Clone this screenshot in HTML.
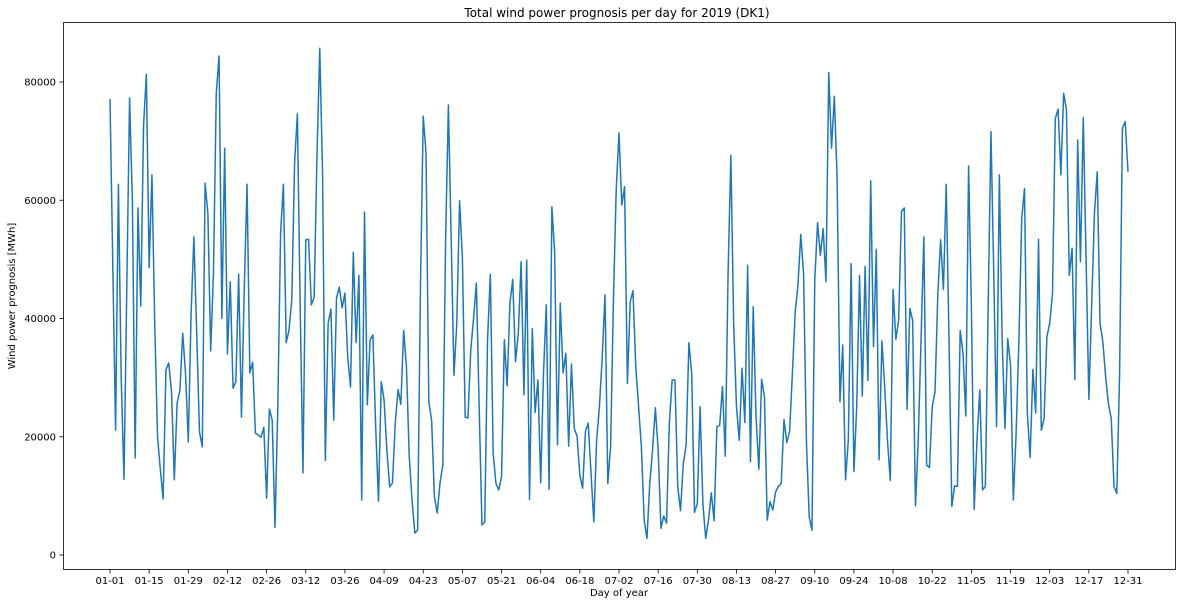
<!DOCTYPE html>
<html><head><meta charset="utf-8">
<style>
html,body{margin:0;padding:0;background:#fff;}
svg{display:block;font-family:"DejaVu Sans","Liberation Sans",sans-serif;}
</style></head>
<body>
<svg id="chart" width="1182" height="604" viewBox="0 0 1182 604" xmlns="http://www.w3.org/2000/svg">
<rect x="0" y="0" width="1182" height="604" fill="#fff"/>
<text x="617" y="17" font-size="12" text-anchor="middle" fill="#000">Total wind power prognosis per day for 2019 (DK1)</text>
<rect x="63.5" y="22.5" width="1112" height="547" fill="none" stroke="#000" stroke-width="0.8"/>
<g id="yaxis"></g>
<g id="xaxis"></g>
<text x="619" y="596" font-size="10" text-anchor="middle" fill="#000">Day of year</text>
<text x="15" y="296" font-size="10" text-anchor="middle" fill="#000" transform="rotate(-90 15 296)">Wind power prognosis [MWh]</text>
<path id="series" fill="none" stroke="#1f77b4" stroke-width="1.5" stroke-linejoin="round"/>
</svg>
<script>
const windValuesK = [
77.1,49,21.1,62.7,30,12.8,45,77.3,60,16.4,58.7,42.1,72.7,81.3,48.6,64.3,39,20,14.4,9.5,31.3,32.5,27.6,12.7,25.7,27.9,37.5,30.8,19.1,40.9,53.8,37.5,20.8,18.3,62.9,57.8,34.5,47.7,78.1,84.4,40,68.8,34,46.2,28.2,
29.3,47.5,23.3,44.8,62.7,30.8,32.6,20.6,20.3,19.9,21.6,9.6,24.7,22.8,4.7,25,54.5,62.7,35.9,38,43.1,66.3,74.6,42,13.9,53.3,53.4,42.3,43.6,67.3,85.7,64.6,16,39.2,41.6,22.8,43.5,45.3,41.8,44.3,33.5,28.4,51.2,35.9,47.3,9.3,58,
25.4,36.4,37.2,21.6,9.1,29.3,26.2,17.8,11.5,12.2,22.3,28,25.5,38,31.8,16.6,9.3,3.7,4.2,45,74.2,68,25.9,22.8,9.8,7.1,12.2,15.2,53.3,76.1,53.3,30.4,39.2,59.9,50.4,23.3,23.2,34.7,40,46,25,5.1,5.6,36.4,47.5,
17.2,12.1,11.0,13.2,36.4,28.6,42.6,46.6,32.7,37.5,49.6,27.1,49.9,9.4,38.3,24.1,29.6,12.2,30.7,42.3,11.1,58.9,51.0,18.6,42.6,30.8,34.1,18.4,32.3,21.4,20.1,13.5,11.3,20.9,22.3,13.8,5.6,19.4,25.1,33.5,44.0,12.1,18.3,43.1,61.7,71.4,59.2,62.3,
29.0,42.8,44.7,31.8,25.1,18.3,5.9,2.8,12.1,17.8,24.9,17.8,4.5,6.6,5.4,22.3,29.6,29.6,11.6,7.5,15.5,18.6,35.9,30.7,7.2,8.7,25.1,8.7,2.8,5.9,10.5,5.8,21.7,21.9,28.5,16.7,47.6,67.6,39.2,25.1,19.4,31.6,22.4,49.0,15.8,42.0,23.4,
14.5,29.7,26.8,5.9,9.0,7.6,10.7,11.6,12.1,22.9,19.0,20.9,30.7,41.1,45.7,54.2,47.6,19.4,6.5,4.2,46.5,56.2,50.7,55.2,46.2,81.6,68.8,77.6,63.4,25.9,35.5,12.7,19.4,49.3,14.1,25.1,47.3,26.9,48.8,29.5,63.3,35.2,51.7,16.1,36.2,28.5,
19.4,12.6,44.9,36.5,39.7,58.1,58.7,24.6,41.7,39.7,8.3,19.4,36.4,53.8,15.2,14.8,25.1,27.6,44.2,53.3,44.9,62.7,36.4,8.2,11.7,11.6,38.0,34.1,23.5,65.8,42.0,7.7,19.4,27.9,11.0,11.6,42.0,71.6,47.6,21.7,64.3,36.4,21.4,36.6,32.1,9.3,
20.6,36.4,56.9,62.0,24.0,16.5,31.4,24.0,53.4,21.1,23.1,36.9,39.2,44.2,73.8,75.4,64.3,78.1,75.3,47.3,51.9,29.7,70.2,49.6,74.0,50.4,26.3,42.0,57.8,64.8,39.2,36.1,30.2,25.6,23.1,11.6,10.4,30.7,72.2,73.3,64.8
];
const yTickValues = [0,20000,40000,60000,80000];
const xTickLabels = ["01-01","01-15","01-29","02-12","02-26","03-12","03-26","04-09","04-23","05-07","05-21","06-04","06-18","07-02","07-16","07-30","08-13","08-27","09-10","09-24","10-08","10-22","11-05","11-19","12-03","12-17","12-31"];
const xTickDays = [0,14,28,42,56,70,84,98,112,126,140,154,168,182,196,210,224,238,252,266,280,294,308,322,336,350,364];

const NS = "http://www.w3.org/2000/svg";
function xScale(d){ return 110 + d * (1128 - 110) / 364; }
function yScale(v){ return 555 - v * (555 - 82) / 80000; }

const yaxis = document.getElementById('yaxis');
yTickValues.forEach(v => {
  const y = yScale(v);
  const t = document.createElementNS(NS,'line');
  t.setAttribute('x1',59.5); t.setAttribute('x2',63.5);
  t.setAttribute('y1',y); t.setAttribute('y2',y);
  t.setAttribute('stroke','#000'); t.setAttribute('stroke-width','0.8');
  
  
  yaxis.appendChild(t);
  const l = document.createElementNS(NS,'text');
  l.setAttribute('x',56); l.setAttribute('y',y+3.5);
  l.setAttribute('font-size','10'); l.setAttribute('text-anchor','end');
  l.textContent = String(v);
  
  
  yaxis.appendChild(l);
});

const xaxis = document.getElementById('xaxis');
xTickDays.forEach((d,i) => {
  const x = xScale(d);
  const t = document.createElementNS(NS,'line');
  t.setAttribute('x1',x); t.setAttribute('x2',x);
  t.setAttribute('y1',569.5); t.setAttribute('y2',573.5);
  t.setAttribute('stroke','#000'); t.setAttribute('stroke-width','0.8');
  
  
  xaxis.appendChild(t);
  const l = document.createElementNS(NS,'text');
  l.setAttribute('x',x); l.setAttribute('y',584);
  l.setAttribute('font-size','10'); l.setAttribute('text-anchor','middle');
  l.textContent = xTickLabels[i];
  
  
  xaxis.appendChild(l);
});

let dstr = '';
windValuesK.forEach((v,i) => {
  dstr += (i === 0 ? 'M' : 'L') + xScale(i).toFixed(2) + ',' + yScale(v * 1000).toFixed(2);
});
document.getElementById('series').setAttribute('d', dstr);
</script>
</body></html>
